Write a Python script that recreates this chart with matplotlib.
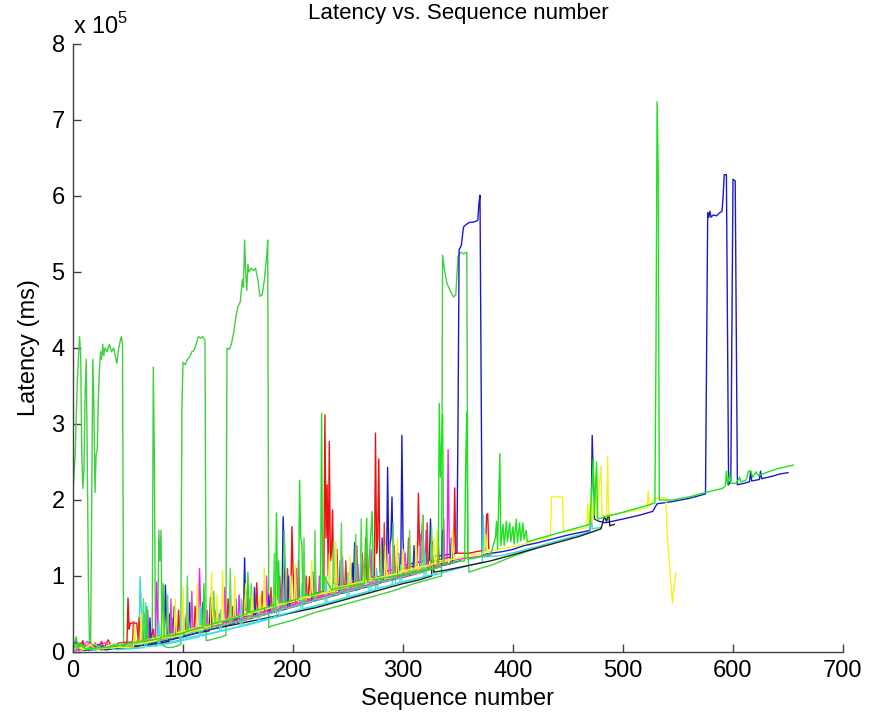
import matplotlib
matplotlib.use('Agg')
import matplotlib.pyplot as plt

plt.rcParams['font.family'] = ['Liberation Sans', 'DejaVu Sans']
plt.rcParams['mathtext.fontset'] = 'custom'
plt.rcParams['mathtext.rm'] = 'Liberation Sans'

# latency values in units of 1e5 ms, (sequence number, latency)
green1 = [(0,2.1),(2,2.6),(4,3.6),(6,4.15),(7,3.9),(8,2.6),(9,2.15),(10,2.4),(11,3.4),(12,3.85),
          (13,2.5),(14,0.9),(15,0.1),(16,0.1),(17,2.0),(18,3.85),(19,3.2),(20,2.1),(21,2.6),(22,2.65),
          (23,3.3),(24,3.7),(25,3.95),(26,3.85),(27,4.05),(28,3.9),(29,4.0),(31,3.95),(33,4.05),(35,3.95),
          (37,4.0),(39,3.85),(40,3.8),(41,3.95),(43,4.1),(44,4.15),(45,4.05),(46,0.12),(50,0.1),(55,0.1),
          (60,0.1),(65,0.1),(70,0.09),(72,0.09),(73,3.75),(74,2.5),(75,0.08),(77,0.1),(78,1.6),(79,1.2),
          (80,1.6),(81,0.1),(85,0.06),(90,0.06),(95,0.08),(98,0.1),(99,3.2),(100,3.81),(102,3.78),(104,3.85),
          (106,3.88),(108,3.95),(110,3.97),(112,4.05),(114,4.15),(116,4.13),(118,4.15),(120,4.1),(121,0.15),
          (125,0.16),(130,0.18),(135,0.2),(139,0.22),(140,4.0),(142,3.98),(144,4.05),(146,4.2),(148,4.4),
          (150,4.55),(152,4.6),(154,4.9),(155,4.8),(156,5.42),(157,5.0),(158,4.76),(159,5.1),(160,5.0),
          (162,5.05),(164,5.02),(166,5.05),(168,4.9),(170,4.68),(172,4.7),(174,4.9),(176,5.2),(177,5.42),
          (178,0.32),(180,0.34),(190,0.38),(200,0.42),(210,0.47),(220,0.52),(230,0.56),(240,0.6),(250,0.64),
          (260,0.68),(270,0.72),(280,0.76),(290,0.8),(300,0.85),(310,0.9),(320,0.94),(330,0.98),(335,1.0),
          (336,5.22),(338,5.0),(340,4.85),(343,4.75),(346,4.67),(348,4.7),(350,5.2),(352,5.26),(355,5.24),
          (358,5.26),(359,1.3),(360,1.05),(370,1.1),(380,1.14),(390,1.2),(400,1.26),(410,1.31),(420,1.36)]

green2 = [(0,0.05),(3,0.2),(4,0.05),(8,0.1),(12,0.03),(20,0.05),(30,0.06),(40,0.08),(47,0.1),(55,0.12),
          (60,0.13),(66,0.15),(67,0.6),(68,0.15),(80,0.18),(82,0.9),(83,0.2),(90,0.22),(100,0.25),(110,0.3),
          (118,0.33),(119,0.9),(120,0.35),(130,0.38),(140,0.42),(150,0.46),(158,0.5),(159,1.05),(160,0.52),
          (170,0.56),(180,0.6),(184,0.62),(185,1.83),(186,0.7),(187,1.2),(188,0.65),(195,0.66),(200,0.68),
          (205,0.7),(206,2.26),(207,1.5),(208,1.45),(209,0.75),(215,0.75),(220,0.76),(225,0.78),(226,3.14),
          (227,0.8),(228,1.0),(235,0.82),(245,0.85),(255,0.88),(265,0.9),(267,1.76),(268,0.92),(272,1.85),
          (273,0.95),(285,0.98),(300,1.02),(310,1.05),(320,1.08),(330,1.1),(332,1.12),(333,3.27),(334,2.3),
          (336,3.12),(337,1.15),(345,1.18),(356,1.2),(357,2.5),(358,3.16),(359,1.22),(370,1.25),(380,1.3),
          (384,1.5),(385,1.72),(386,1.35),(388,2.61),(389,1.4),(391,1.68),(392,1.4),(394,1.72),(395,1.45),
          (397,1.7),(398,1.45),(400,1.65),(401,1.42),(403,1.75),(404,1.44),(406,1.7),(407,1.46),(409,1.7),
          (410,1.48),(412,1.6),(413,1.45),(420,1.48),(430,1.52),(440,1.56),(450,1.6),(460,1.64),(470,1.68),
          (473,2.55),(474,1.8),(476,2.5),(477,1.75),(490,1.8),(500,1.84),(510,1.88),(520,1.92),(529,1.96),
          (530,4.0),(531,7.24),(532,6.3),(533,2.0),(545,2.0),(560,2.04),(575,2.1),(590,2.15),(593,2.18),
          (594,2.38),(595,2.2),(597,2.35),(598,2.22),(603,2.22),(606,2.3),(607,2.24),(612,2.26),(614,2.38),
          (616,2.38),(618,2.3),(621,2.37),(623,2.32),(630,2.36),(640,2.41),(655,2.46)]

green3 = [(0,0.04),(5,0.12),(11,0.03),(19,0.1),(28,0.04),(38,0.1),(48,0.07),(56,0.1),(63,0.1),(64,0.7),
          (65,0.11),(85,0.17),(86,0.75),(87,0.18),(103,0.24),(104,1.0),(105,0.25),(127,0.32),(128,0.8),
          (129,0.33),(142,0.37),(143,1.1),(144,0.38),(161,0.44),(162,0.9),(163,0.45),(182,0.52),(183,1.3),
          (184,0.53),(191,0.56),(192,1.6),(193,1.2),(194,0.57),(209,0.63),(210,1.5),(211,0.64),(219,0.67),
          (220,1.6),(221,0.68),(236,0.74),(237,1.45),(238,0.75),(243,0.77),(244,1.7),(245,0.78),(256,0.82),
          (257,1.55),(258,0.83),(261,0.84),(262,1.75),(263,0.85),(279,0.91),(280,1.4),(281,0.92),(290,0.95),
          (291,1.7),(292,0.96),(305,1.01),(306,1.6),(307,1.02),(317,1.05),(318,1.8),(319,1.06),(325,1.08),
          (326,1.65),(327,1.09),(335,1.12)]

red1 = [(0,0.1),(2,0.02),(4,0.12),(6,0.03),(9,0.15),(11,0.04),(14,0.1),(17,0.02),(20,0.12),(23,0.05),
        (26,0.14),(28,0.04),(32,0.16),(35,0.06),(40,0.08),(45,0.07),(49,0.08),(50,0.71),(51,0.3),(52,0.38),
        (58,0.38),(59,0.2),(62,0.15),(70,0.15),(73,0.3),(74,0.16),(80,0.18),(90,0.2),(95,0.22),(96,0.55),
        (97,0.24),(105,0.26),(110,0.28),(111,0.6),(112,0.3),(120,0.32),(125,0.35),(126,0.78),(127,0.38),
        (135,0.4),(140,0.42),(141,0.7),(142,0.44),(150,0.47),(160,0.5),(166,0.52),(167,0.91),(168,0.55),
        (175,0.58),(185,0.62),(190,0.64),(198,0.66),(199,1.65),(200,1.1),(201,0.7),(210,0.72),(214,0.74),
        (215,0.99),(216,0.76),(222,0.78),(228,0.8),(229,3.12),(230,1.5),(231,2.2),(232,1.0),(233,2.77),
        (234,1.2),(235,1.3),(236,1.87),(237,0.9),(245,0.88),(255,0.92),(262,0.95),(263,1.3),(264,0.96),
        (274,1.0),(275,2.88),(276,1.3),(277,1.5),(278,2.54),(279,1.05),(290,1.08),(300,1.1),(313,1.14),
        (314,2.09),(315,1.4),(317,1.5),(318,1.8),(319,1.2),(330,1.2),(335,1.22),(340,1.24),(346,1.26),
        (347,2.16),(348,1.3),(360,1.3),(370,1.33),(375,1.34),(376,1.8),(377,1.82),(378,1.36)]

red2 = [(0,0.05),(8,0.12),(15,0.04),(24,0.1),(33,0.05),(42,0.12),(50,0.13),(54,0.13),(55,0.4),(56,0.14),
        (59,0.14),(60,0.45),(61,0.15),(64,0.15),(65,0.5),(66,0.16),(89,0.22),(90,0.45),(91,0.23),(102,0.26),
        (103,0.5),(104,0.27),(129,0.36),(130,0.55),(131,0.37),(144,0.41),(145,0.6),(146,0.42),(154,0.45),
        (155,0.7),(156,0.46),(171,0.52),(172,0.8),(173,0.53),(179,0.56),(180,0.85),(181,0.57),(187,0.59),
        (188,1.0),(189,0.6),(194,0.62),(195,1.1),(196,0.63),(204,0.66),(205,1.2),(206,0.67),(211,0.68),
        (212,1.0),(213,0.69),(219,0.71),(220,1.1),(221,0.72),(239,0.8),(240,1.35),(241,0.81),(247,0.83),
        (248,1.2),(249,0.84),(257,0.87),(258,1.4),(259,0.88),(265,0.9),(266,1.5),(267,0.91),(282,0.97),
        (283,1.7),(284,0.98),(291,1.0),(292,1.4),(293,1.01),(304,1.05),(305,1.5),(306,1.06),(321,1.11),
        (322,1.7),(323,1.12),(331,1.15),(332,1.5),(333,1.16),(340,1.18)]

blue1 = [(0,0.05),(3,0.15),(5,0.02),(8,0.1),(12,0.05),(16,0.12),(20,0.03),(25,0.08),(30,0.05),(40,0.06),
         (50,0.08),(60,0.1),(70,0.12),(80,0.15),(83,0.16),(84,0.88),(85,0.4),(86,0.2),(95,0.24),(105,0.28),
         (106,0.65),(107,0.3),(115,0.32),(125,0.36),(135,0.4),(145,0.44),(155,0.46),(156,1.24),(157,0.55),
         (158,0.8),(159,0.5),(170,0.54),(180,0.58),(190,0.62),(191,1.78),(192,1.3),(193,0.66),(200,0.68),
         (210,0.72),(220,0.75),(230,0.78),(240,0.82),(250,0.86),(253,0.87),(254,1.17),(255,0.9),(256,1.44),
         (257,0.92),(270,0.96),(280,1.0),(285,1.02),(286,2.43),(287,1.3),(289,1.5),(290,2.04),(291,1.1),
         (298,1.12),(299,2.85),(300,1.5),(301,1.14),(310,1.17),(320,1.2),(324,1.22),(325,1.75),(326,1.3),
         (330,1.26),(340,1.28),(349,1.3),(350,3.0),(351,5.29),(353,5.35),(355,5.59),(357,5.62),(360,5.65),
         (365,5.66),(368,5.68),(369,5.9),(370,6.01),(371,3.6),(372,1.28),(380,1.3),(390,1.32),(400,1.35),
         (410,1.4),(420,1.43),(434,1.48),(450,1.54),(470,1.6),(471,1.72),(472,2.85),(473,2.3),(474,1.75),
         (478,1.72),(484,1.7),(500,1.75),(515,1.8),(527,1.85),(531,1.95),(545,1.98),(560,2.02),(575,2.08),
         (576,3.93),(577,5.78),(578,5.72),(579,5.8),(580,5.72),(582,5.75),(585,5.74),(588,5.78),(590,5.8),
         (591,5.99),(592,6.28),(594,6.28),(595,4.2),(596,2.2),(598,2.25),(599,4.2),(600,6.22),(602,6.2),
         (603,4.2),(604,2.2),(610,2.22),(615,2.24),(616,2.38),(617,2.25),(624,2.27),(625,2.38),(626,2.28),
         (635,2.31),(642,2.34),(650,2.36)]

blue2 = [(0,0.03),(7,0.09),(14,0.02),(22,0.1),(31,0.03),(40,0.08),(50,0.08),(60,0.09),(69,0.1),(70,0.45),
         (71,0.11),(91,0.17),(92,0.6),(93,0.18),(117,0.27),(118,0.65),(119,0.28),(132,0.32),(133,0.5),
         (134,0.33),(147,0.38),(148,0.7),(149,0.39),(164,0.45),(165,0.85),(166,0.46),(177,0.5),(178,0.75),
         (179,0.51),(195,0.57),(196,1.0),(197,0.58),(217,0.66),(218,1.05),(219,0.67),(242,0.76),(243,1.2),
         (244,0.77),(261,0.83),(262,1.3),(263,0.84),(280,0.91),(281,1.5),(282,0.92),(295,0.97),(296,1.3),
         (297,0.98),(309,1.03),(310,1.4),(311,1.04),(335,1.13),(336,1.6),(337,1.14),(343,1.16),(344,1.5),
         (345,1.17),(352,1.2)]

yellow1 = [(0,0.02),(5,0.08),(10,0.03),(15,0.1),(20,0.04),(30,0.05),(40,0.06),(50,0.06),(55,0.07),(56,0.35),
           (57,0.1),(65,0.12),(75,0.15),(80,0.18),(90,0.2),(99,0.22),(100,0.85),(101,0.3),(102,0.25),(110,0.28),
           (118,0.3),(119,0.6),(120,0.32),(125,0.34),(126,1.04),(127,0.5),(128,0.36),(135,0.38),(136,1.07),
           (137,0.42),(145,0.44),(155,0.48),(162,0.5),(163,0.8),(164,0.52),(169,0.55),(170,0.75),(171,0.56),
           (180,0.6),(190,0.64),(197,0.66),(198,1.0),(199,0.68),(210,0.72),(220,0.75),(238,0.8),(239,1.45),
           (240,0.85),(250,0.88),(260,0.92),(268,0.94),(269,1.25),(270,0.96),(285,1.0),(294,1.03),(295,1.5),
           (296,1.05),(310,1.1),(325,1.15),(330,1.17),(331,1.6),(332,1.2),(345,1.22),(360,1.27),(374,1.3),
           (375,1.55),(376,1.32),(390,1.36),(405,1.4),(415,1.44),(420,1.47),(430,1.5),(434,1.52),(435,2.04),
           (445,2.04),(446,1.58),(455,1.6),(465,1.63),(467,1.64),(468,1.95),(469,1.66),(471,2.1),(472,1.7),
           (475,2.3),(476,1.75),(480,2.45),(481,1.8),(485,1.8),(486,2.57),(487,1.8),(495,1.82),(510,1.86),
           (522,1.9),(523,2.12),(524,1.92),(529,2.03),(539,2.03),(540,1.6),(542,1.2),(545,0.64),(546,0.8),
           (548,1.05)]

yellow2 = [(0,0.1),(9,0.03),(18,0.12),(27,0.04),(36,0.11),(45,0.06),(55,0.12),(61,0.14),(62,0.5),(63,0.15),
           (81,0.2),(82,0.6),(83,0.21),(92,0.24),(93,0.7),(94,0.25),(112,0.32),(113,0.9),(114,0.33),(130,0.38),
           (131,0.75),(132,0.39),(146,0.45),(147,1.0),(148,0.46),(156,0.49),(157,0.9),(158,0.5),(173,0.55),
           (174,1.1),(175,0.56),(184,0.6),(185,0.8),(186,0.61),(201,0.67),(202,1.15),(203,0.68),(216,0.73),
           (217,1.2),(218,0.74),(232,0.79),(233,1.3),(234,0.8),(251,0.86),(252,1.25),(253,0.87),(264,0.91),
           (265,1.1),(266,0.92),(283,0.98),(284,1.4),(285,0.99),(299,1.04),(300,1.35),(301,1.05),(311,1.08),
           (312,1.45),(313,1.09),(327,1.15),(328,1.5),(329,1.16),(344,1.21),(345,1.6),(346,1.22),(355,1.25)]

cyan1 = [(0,0.03),(4,0.1),(8,0.02),(15,0.06),(25,0.03),(35,0.05),(45,0.04),(55,0.05),(60,0.06),(61,0.99),
         (62,0.6),(63,0.3),(64,0.08),(75,0.1),(85,0.12),(95,0.15),(100,0.16),(101,0.45),(102,0.18),(115,0.22),
         (130,0.26),(145,0.31),(160,0.36),(175,0.42),(190,0.48),(205,0.54),(220,0.6),(240,0.68),(260,0.76),
         (275,0.82),(276,1.1),(277,0.84),(290,0.88),(292,1.25),(293,0.9),(310,0.96),(330,1.02),(350,1.1),
         (372,1.18),(373,1.8),(374,1.25),(390,1.27),(410,1.34),(430,1.42),(450,1.5),(470,1.58),(471,2.15),
         (472,1.62),(480,1.64)]

cyan2 = [(0,0.02),(10,0.08),(20,0.02),(30,0.07),(40,0.03),(50,0.04),(60,0.05),(65,0.06),(66,0.65),(67,0.07),
         (77,0.08),(78,0.4),(79,0.09),(97,0.14),(98,0.5),(99,0.15),(115,0.2),(116,0.6),(117,0.21),(133,0.27),
         (134,0.55),(135,0.28),(152,0.34),(153,0.7),(154,0.35),(168,0.4),(169,0.65),(170,0.41),(185,0.47),
         (186,0.8),(187,0.48),(207,0.56),(208,0.9),(209,0.57),(229,0.64),(230,1.0),(231,0.65),(249,0.72),
         (250,1.05),(251,0.73),(269,0.8),(270,1.2),(271,0.81),(297,0.91),(298,1.15),(299,0.92),(319,0.99),
         (320,1.3),(321,1.0),(330,1.03)]

magenta1 = [(0,0.08),(3,0.02),(6,0.12),(10,0.05),(14,0.1),(18,0.03),(22,0.08),(30,0.05),(38,0.1),(45,0.06),
            (55,0.08),(65,0.1),(75,0.12),(76,0.92),(77,0.5),(78,0.15),(85,0.18),(95,0.22),(105,0.26),(114,0.3),
            (115,1.1),(116,0.6),(117,0.33),(130,0.36),(140,0.4),(150,0.44),(151,0.75),(152,0.46),(165,0.5),
            (180,0.55),(195,0.6),(210,0.66),(225,0.72),(240,0.78),(248,0.8),(249,0.9),(250,0.82),(265,0.86),
            (280,0.92),(300,0.98),(315,1.04),(320,1.06),(321,1.6),(322,1.1),(330,1.12),(340,1.16),(341,2.66),
            (342,1.5),(343,1.2),(360,1.24),(380,1.28)]

magenta2 = [(0,0.06),(6,0.02),(13,0.14),(21,0.04),(29,0.12),(37,0.05),(46,0.1),(55,0.1),(67,0.13),(68,0.55),
            (69,0.14),(88,0.19),(89,0.7),(90,0.2),(107,0.27),(108,0.8),(109,0.28),(121,0.31),(122,0.55),
            (123,0.32),(137,0.37),(138,0.85),(139,0.38),(159,0.45),(160,0.7),(161,0.46),(175,0.51),(176,1.0),
            (177,0.52),(189,0.57),(190,0.9),(191,0.58),(202,0.62),(203,1.1),(204,0.63),(223,0.71),(224,1.0),
            (225,0.72),(244,0.79),(245,1.25),(246,0.8),(258,0.85),(259,1.15),(260,0.86),(270,0.89),(271,1.35),
            (272,0.9),(287,0.96),(288,1.45),(289,0.97),(301,1.01),(302,1.3),(303,1.02),(315,1.06),(316,1.55),
            (317,1.07),(336,1.14),(337,1.75),(338,1.15),(345,1.17)]

black1 = [(0,0.02),(5,0.06),(10,0.02),(20,0.04),(30,0.03),(40,0.05),(50,0.06),(60,0.08),(70,0.1),(80,0.12),
          (87,0.14),(88,0.5),(89,0.16),(100,0.2),(110,0.24),(124,0.28),(125,0.72),(126,0.3),(140,0.34),
          (160,0.4),(180,0.46),(200,0.52),(220,0.58),(240,0.66),(260,0.74),(280,0.82),(300,0.9),(315,0.95),
          (326,1.0),(327,1.45),(328,1.05),(340,1.08),(360,1.14),(380,1.2),(400,1.28),(430,1.4),(460,1.52),
          (480,1.62),(483,1.78),(485,1.72),(487,1.82),(488,1.66),(492,1.68)]

series = [
    (green1, '#3fd03f'),
    (blue1, '#1a1acd'),
    (red1, '#ee1111'),
    (cyan1, '#33dada'),
    (magenta1, '#f020f0'),
    (black1, '#202020'),
    (red2, '#d83a2a'),
    (blue2, '#2a2ad8'),
    (cyan2, '#40e0e0'),
    (magenta2, '#e040e0'),
    (yellow2, '#f0f030'),
    (green3, '#5ad85a'),
    (yellow1, '#f2f222'),
    (green2, '#1ee21e'),
]

fig = plt.figure(figsize=(8.78, 7.18), dpi=100)
ax = fig.add_axes([73/878, 1 - 652/718, (843 - 73)/878, (652 - 44)/718])

for pts, col in series:
    xs = [p[0] for p in pts]
    ys = [p[1] * 1e5 for p in pts]
    ax.plot(xs, ys, color=col, linewidth=1.0)

ax.set_xlim(0, 700)
ax.set_ylim(0, 8e5)
ax.set_xticks(range(0, 701, 100))
ax.set_yticks([i * 1e5 for i in range(9)])
ax.set_yticklabels([str(i) for i in range(9)])

for s in ['top', 'right']:
    ax.spines[s].set_visible(False)
for s in ['left', 'bottom']:
    ax.spines[s].set_color('#404040')
    ax.spines[s].set_linewidth(1.0)
ax.tick_params(direction='in', length=6, width=1, color='#404040',
               labelsize=17, pad=6)

ax.set_xlabel('Sequence number', fontsize=17, labelpad=4)
ax.set_ylabel('Latency (ms)', fontsize=17, labelpad=8)
ax.set_title('Latency vs. Sequence number', fontsize=16, pad=18)
fig.text(73/878, 1 - 34/718, r'x 10$^{\mathrm{5}}$', fontsize=17, ha='left', va='baseline')

fig.savefig('out.png', dpi=100)
